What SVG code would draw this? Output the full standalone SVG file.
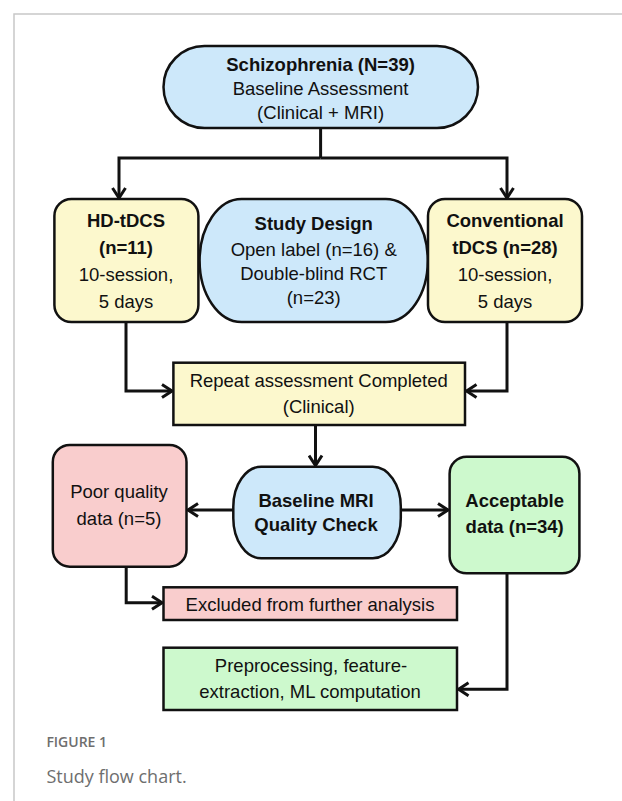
<svg xmlns="http://www.w3.org/2000/svg" width="622" height="801" viewBox="0 0 622 801">
<style>
  .t { font-family: "Liberation Sans", Arial, sans-serif; font-size: 18.5px; fill: #111; text-anchor: middle; }
  .b { font-weight: bold; }
  .box { stroke: #111; stroke-width: 2.5; }
  .blue { fill: #cde8fa; }
  .yellow { fill: #fcf8cd; }
  .pink { fill: #f9cdcd; }
  .green { fill: #cdf9cd; }
  .conn { fill: none; stroke: #111; stroke-width: 3; marker-end: url(#arr); }
  .line { fill: none; stroke: #111; stroke-width: 3; }
  .cap1 { font-family: "Open Sans", "Liberation Sans", sans-serif; font-size: 14px; font-weight: 600; fill: #6e6e6e; }
  .cap2 { font-family: "Open Sans", "Liberation Sans", sans-serif; font-size: 18px; fill: #6e6e6e; }
</style>
<defs>
  <marker id="arr" markerUnits="userSpaceOnUse" markerWidth="14" markerHeight="16" viewBox="0 0 14 16" refX="12" refY="8" orient="auto">
    <path d="M2,1.5 L12,8 L2,14.5" fill="none" stroke="#111" stroke-width="3"/>
  </marker>
</defs>
<rect width="622" height="801" fill="#ffffff"/>
<path d="M14,801 L14,14 L622,14" fill="none" stroke="#c8c8c8" stroke-width="1.5"/>

<g id="connectors">
  <path class="line" d="M320.6,128 L320.6,158"/>
  <path class="conn" d="M320.6,158 L119,158 L119,198"/>
  <path class="conn" d="M320.6,158 L507,158 L507,198"/>
  <path class="conn" d="M126,322 L126,391 L172,391"/>
  <path class="conn" d="M507,322 L507,391 L466.5,391"/>
  <path class="conn" d="M315.5,425 L315.5,465.5"/>
  <path class="conn" d="M233.3,510 L188,510"/>
  <path class="conn" d="M400.8,510 L448,510"/>
  <path class="conn" d="M126.2,566.7 L126.2,602.7 L162,602.7"/>
  <path class="conn" d="M507,573.3 L507,689.3 L458.5,689.3"/>
</g>

<g id="baseline">
  <rect class="box blue" x="163.5" y="46" width="314.5" height="82" rx="41" ry="41"/>
  <text class="t b" x="320.6" y="71">Schizophrenia (N=39)</text>
  <text class="t" x="320.6" y="95">Baseline Assessment</text>
  <text class="t" x="320.6" y="118.5">(Clinical + MRI)</text>
</g>

<g id="hdtdcs">
  <rect class="box yellow" x="54.4" y="199" width="144" height="123" rx="17" ry="17"/>
  <text class="t b" x="126" y="227">HD-tDCS</text>
  <text class="t b" x="126" y="254">(n=11)</text>
  <text class="t" x="126" y="281">10-session,</text>
  <text class="t" x="126" y="308">5 days</text>
</g>

<g id="studydesign">
  <rect class="box blue" x="199.6" y="199" width="228.2" height="123" rx="42" ry="61.5"/>
  <text class="t b" x="313.7" y="230">Study Design</text>
  <text class="t" x="313.7" y="256">Open label (n=16) &amp;</text>
  <text class="t" x="313.7" y="280">Double-blind RCT</text>
  <text class="t" x="313.7" y="304">(n=23)</text>
</g>

<g id="conventional">
  <rect class="box yellow" x="428" y="199" width="154" height="123" rx="17" ry="17"/>
  <text class="t b" x="505" y="227">Conventional</text>
  <text class="t b" x="505" y="254">tDCS (n=28)</text>
  <text class="t" x="505" y="281">10-session,</text>
  <text class="t" x="505" y="308">5 days</text>
</g>

<g id="repeat">
  <rect class="box yellow" x="173.4" y="362.7" width="291.6" height="62.3"/>
  <text class="t" x="318.7" y="387.3">Repeat assessment Completed</text>
  <text class="t" x="318.7" y="413">(Clinical)</text>
</g>

<g id="mriqc">
  <rect class="box blue" x="233.3" y="466.7" width="167.5" height="91.6" rx="28" ry="40"/>
  <text class="t b" x="316" y="507.3">Baseline MRI</text>
  <text class="t b" x="316" y="530.5">Quality Check</text>
</g>

<g id="poor">
  <rect class="box pink" x="52.8" y="445" width="133.7" height="121.7" rx="17" ry="17"/>
  <text class="t" x="119" y="498.3">Poor quality</text>
  <text class="t" x="119" y="525">data (n=5)</text>
</g>

<g id="acceptable">
  <rect class="box green" x="449.6" y="456.7" width="129.8" height="116.6" rx="17" ry="17"/>
  <text class="t b" x="514.7" y="507.3">Acceptable</text>
  <text class="t b" x="514.7" y="533.3">data (n=34)</text>
</g>

<g id="excluded">
  <rect class="box pink" x="163.5" y="587.3" width="293.5" height="32.7"/>
  <text class="t" x="310" y="610.7">Excluded from further analysis</text>
</g>

<g id="preprocessing">
  <rect class="box green" x="163.5" y="647.7" width="293.5" height="62.3"/>
  <text class="t" x="311" y="672.3">Preprocessing, feature-</text>
  <text class="t" x="310" y="698.3">extraction, ML computation</text>
</g>

<g id="caption">
  <text class="cap1" x="46.4" y="747">FIGURE 1</text>
  <text class="cap2" x="46.4" y="783">Study flow chart.</text>
</g>
</svg>
